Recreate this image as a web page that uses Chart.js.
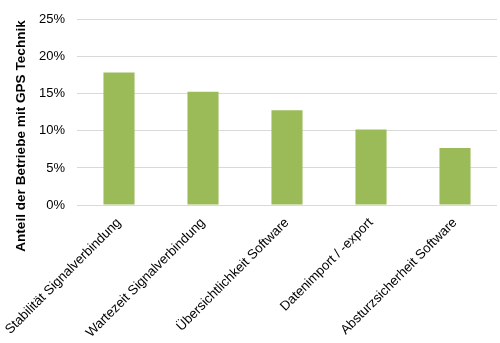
<!DOCTYPE html>
<html>
<head>
<meta charset="utf-8">
<script src="https://cdn.jsdelivr.net/npm/chart.js@4/dist/chart.umd.min.js"></script>
<style>
  body { margin: 0; background: #fff; }
  #wrap { width: 500px; height: 343px; }
</style>
</head>
<body>
<div id="wrap"><canvas id="myChart" width="500" height="343"></canvas></div>
<script>
// Werte
var kategorien = ['Stabilität Signalverbindung', 'Wartezeit Signalverbindung', 'Übersichtlichkeit Software', 'Datenimport / -export', 'Absturzsicherheit Software'];
var anteile = [17.9, 15.3, 12.8, 10.2, 7.7];
var yTicks = [0, 5, 10, 15, 20, 25];
var yTitel = 'Anteil der Betriebe mit GPS Technik';

var fontFam = '"Liberation Sans", Arial, sans-serif';

// y-Achsentitel selbst zeichnen, damit er wie im Original sitzt
var titelPlugin = {
    id: 'titel',
    afterDraw: function(chart) {
        var c = chart.ctx;
        c.save();
        c.translate(21, 136);
        c.rotate(-Math.PI / 2);
        c.font = 'bold 13.6px ' + fontFam;
        c.fillStyle = '#000';
        c.textAlign = 'center';
        c.textBaseline = 'middle';
        c.fillText(yTitel, 0, 0);
        c.restore();
    }
};

var ctx = document.getElementById('myChart');
var myBarChart = new Chart(ctx, {
    type: 'bar',
    data: {
        labels: kategorien,
        datasets: [{
            data: anteile,
            backgroundColor: '#9BBB59',
            borderWidth: 0,
            barPercentage: 0.74,
            categoryPercentage: 0.5
        }]
    },
    options: {
        responsive: false,
        animation: false,
        layout: { padding: { top: 17, right: 3, left: 0, bottom: 0 } },
        plugins: {
            legend: { display: false },
            tooltip: { enabled: false }
        },
        scales: {
            y: {
                min: 0,
                max: 25,
                afterFit: function(scale) { scale.width = 77; },
                afterBuildTicks: function(scale) {
                    scale.ticks = yTicks.map(function(v) { return { value: v }; });
                },
                border: { display: false },
                grid: { color: '#d9d9d9', lineWidth: 1, drawTicks: false },
                ticks: {
                    padding: 12,
                    color: '#000',
                    font: { family: fontFam, size: 13 },
                    callback: function(value) { return value + '%'; }
                }
            },
            x: {
                afterFit: function(scale) {
                    scale.height = 138;
                    scale.paddingLeft = 0;
                    scale.paddingRight = 0;
                },
                border: { display: false },
                grid: { display: false, drawTicks: false },
                ticks: {
                    padding: 10,
                    minRotation: 45,
                    maxRotation: 45,
                    autoSkip: false,
                    color: '#000',
                    font: { family: fontFam, size: 13.3 }
                }
            }
        }
    },
    plugins: [titelPlugin]
});
</script>
</body>
</html>
